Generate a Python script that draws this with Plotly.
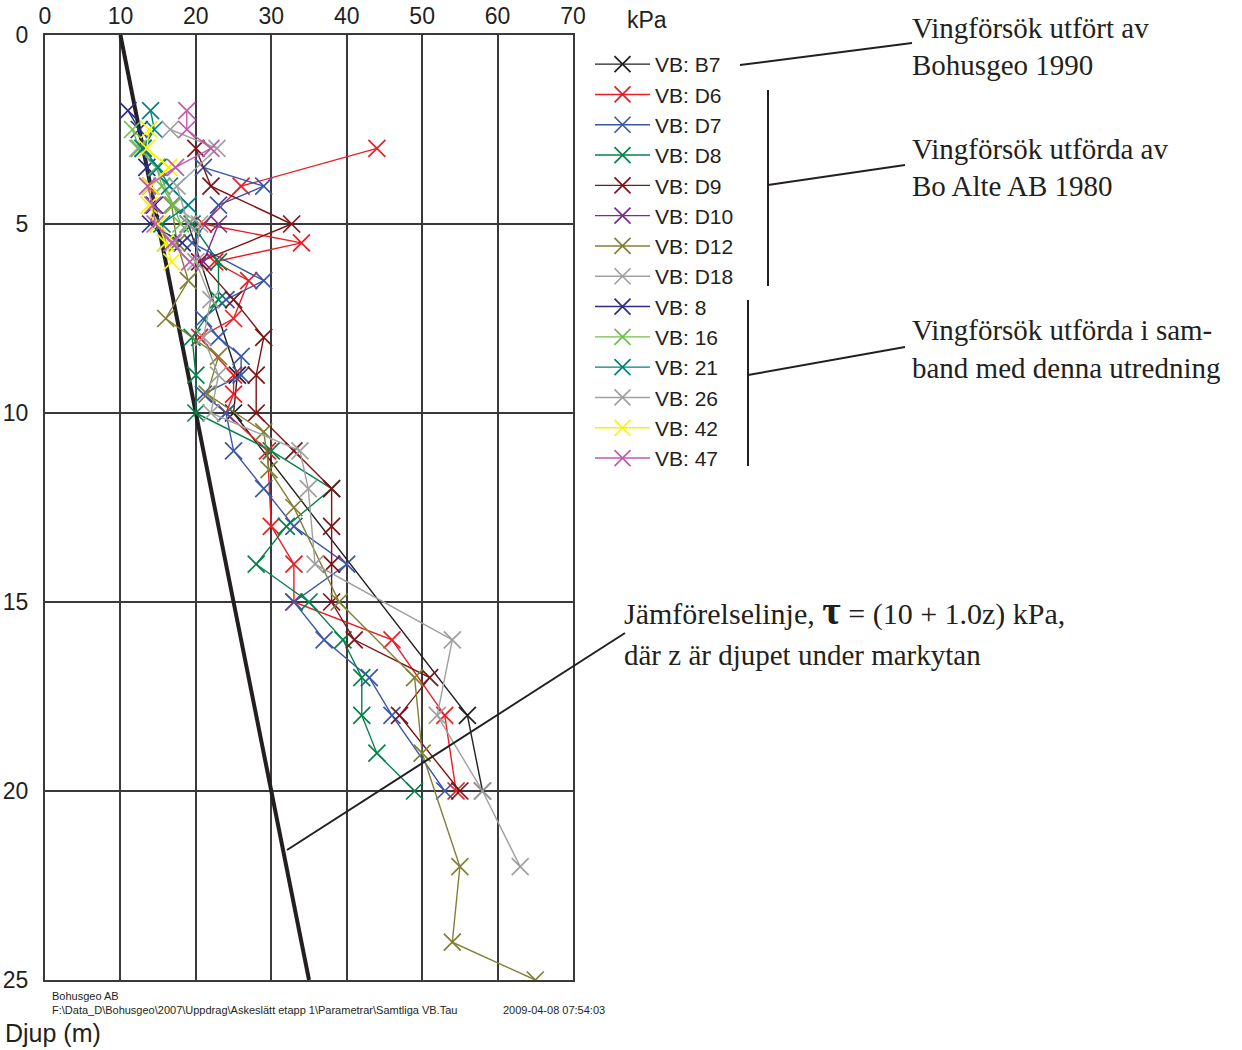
import plotly.graph_objects as go

# ---------------- data (kPa vs depth in m) ----------------
names = ["VB: B7", "VB: D6", "VB: D7", "VB: D8", "VB: D9", "VB: D10", "VB: D12", "VB: D18",
         "VB: 8", "VB: 16", "VB: 21", "VB: 26", "VB: 42", "VB: 47"]
colors = ["#231F20", "#ED1C24", "#3B57A7", "#00844A", "#7E1416", "#7B2D8C", "#808035", "#A0A0A0",
          "#2B2E83", "#6CC04A", "#00827E", "#A0A0A0", "#FFF200", "#C05AAB"]

b7_z = [5, 9, 10, 18, 20]
b7_k = [19, 25.5, 25, 56, 58]

d6_z = [3, 4, 5, 5.5, 6, 6.5, 7.5, 8, 9, 9.5, 10, 11, 13, 14, 15, 16, 18, 20]
d6_k = [44, 26, 21, 34, 22.5, 27, 25, 20.5, 25, 25, 24, 29.5, 30, 33, 33, 46, 53, 54.5]

d7_z = [3.5, 4, 4.5, 5.5, 6.5, 7, 7.5, 8, 8.5, 9, 9.5, 10, 11, 12, 13, 14, 15, 16, 17, 18, 20]
d7_k = [21, 29, 23, 19.5, 29, 24, 21, 23, 26, 26, 21, 24, 25, 29, 33, 40, 33, 37, 43, 46, 53]

d8_z = [5, 6, 7, 8, 9, 10, 11, 12, 13, 14, 15, 16, 17, 18, 19, 20]
d8_k = [19.5, 23, 23, 19.5, 20, 20, 30, 38, 32, 28, 35, 39.5, 42, 42, 44, 49]

d9_z = [3, 4, 5, 6, 7, 8, 9, 10, 11, 12, 13, 14, 15, 16, 17, 18, 20]
d9_k = [20, 22, 32.7, 20.5, 25, 29, 28, 28, 33, 38, 38, 38, 38, 41, 51, 47, 55]

d10_z = [5, 6]
d10_k = [23, 21]

d12_z = [4.5, 5.5, 6.5, 7.5, 8.5, 9.5, 10.5, 11.5, 12.5, 15, 17, 19, 22, 24, 25]
d12_k = [16.8, 17.5, 19, 16, 23, 21.5, 29, 29.7, 33, 39, 49, 50, 55, 54, 65]

d18_z = [3, 3.5, 4.5, 5, 6, 7, 8, 9, 10, 11, 12, 14, 16, 18, 20, 22]
d18_k = [12.3, 14.8, 17, 20.5, 20, 22, 21, 23, 22, 33.8, 34.9, 35.8, 54, 52, 58, 63]

vb8_z = [2, 2.5, 3, 3.5, 4, 4.5, 5, 5.5]
vb8_k = [11, 12.5, 13, 13.5, 14, 14.5, 14, 18.2]

vb16_z = [2.5, 3, 3.5, 4, 4.5, 5]
vb16_k = [11.6, 12.5, 14.8, 15.5, 17, 18]

vb21_z = [2, 2.5, 3, 3.5, 4, 4.5, 5, 5.5]
vb21_k = [14, 14.5, 13, 15, 16.5, 19, 15.5, 16]

vb26_z = [2.5, 3, 4, 5, 5.5]
vb26_k = [16.6, 22.8, 17.5, 19, 17]

vb42_z = [2.5, 3, 3.5, 4, 4.5, 5, 5.5, 6]
vb42_k = [13.8, 13.5, 16.4, 14, 13.8, 15, 16, 16.8]

vb47_z = [2, 2.5, 3, 3.5, 4, 4.5, 5, 5.5, 6]
vb47_k = [18.8, 18.8, 22, 17.3, 13.6, 14.3, 14.6, 16.8, 19.2]

series_z = [b7_z, d6_z, d7_z, d8_z, d9_z, d10_z, d12_z, d18_z, vb8_z, vb16_z, vb21_z, vb26_z, vb42_z, vb47_z]
series_k = [b7_k, d6_k, d7_k, d8_k, d9_k, d10_k, d12_k, d18_k, vb8_k, vb16_k, vb21_k, vb26_k, vb42_k, vb47_k]

# comparison line tau = 10 + 1.0 z
ref_z = [0, 25]
ref_k = [10, 35]

x_ticks = [0, 10, 20, 30, 40, 50, 60, 70]
y_ticks = [0, 5, 10, 15, 20, 25]

# ---------------- figure ----------------
W, H = 1242, 1050
L, R, T, B = 45, 573, 35, 980


def px(x):
    return (x - L) / (R - L)


def py(y):
    return (B - y) / (B - T)


fig = go.Figure()

fig.add_trace(go.Scatter(x=ref_k, y=ref_z, mode="lines", line=dict(color="#231F20", width=4),
                         showlegend=False, hoverinfo="skip"))

for n, c, zz, kk in zip(names, colors, series_z, series_k):
    fig.add_trace(go.Scatter(
        x=kk, y=zz, name=n, mode="lines+markers",
        line=dict(color=c, width=1.4),
        marker=dict(symbol="x-thin", size=17, color=c, line=dict(color=c, width=1.7)),
    ))

axis_font = dict(family="Liberation Sans, Arial", size=23, color="#231F20")

fig.update_xaxes(side="top", range=[0, 70], tickvals=x_ticks, ticks="", showgrid=True,
                 gridcolor="#3a3a3a", gridwidth=1.5, showline=True, linecolor="#3a3a3a",
                 linewidth=2, mirror=True, zeroline=False, tickfont=axis_font, automargin=False)
fig.update_yaxes(range=[25, 0], tickvals=y_ticks, ticks="", showgrid=True,
                 gridcolor="#3a3a3a", gridwidth=1.5, showline=True, linecolor="#3a3a3a",
                 linewidth=2, mirror=True, zeroline=False, tickfont=axis_font, automargin=False,
                 ticklabelstandoff=10)

shapes = []


def seg(x0, y0, x1, y1, w=2):
    shapes.append(dict(type="line", xref="paper", yref="paper",
                       x0=px(x0), y0=py(y0), x1=px(x1), y1=py(y1),
                       line=dict(color="#231F20", width=w)))


seg(740, 65, 912, 43)
seg(768, 90, 768, 286)
seg(768, 185, 905, 165)
seg(748, 300, 748, 466)
seg(748, 375, 905, 347)
seg(287, 850, 625, 633)

serif = dict(family="Liberation Serif, Times New Roman", size=29, color="#231F20")
ann = []


def text(x, y, s, font, xanchor="left"):
    ann.append(dict(xref="paper", yref="paper", x=px(x), y=py(y), text=s, showarrow=False,
                    xanchor=xanchor, yanchor="middle", font=font))


text(910, 28, "Vingförsök utfört av", serif)
text(910, 65, "Bohusgeo 1990", serif)
text(910, 149, "Vingförsök utförda av", serif)
text(910, 186, "Bo Alte AB 1980", serif)
text(910, 330, "Vingförsök utförda i sam-", serif)
text(910, 368, "band med denna utredning", serif)
text(622, 610, "Jämförelselinje, <b><span style='font-size:40px'>τ</span></b> = (10 + 1.0z) kPa,",
     dict(family="Liberation Serif, Times New Roman", size=30, color="#231F20"))
text(622, 655, "där z är djupet under markytan", serif)

sans = dict(family="Liberation Sans, Arial", size=23, color="#231F20")
text(625, 20, "kPa", sans)
text(3, 1033, "Djup (m)", dict(family="Liberation Sans, Arial", size=25, color="#231F20"))
small = dict(family="Liberation Sans, Arial", size=11, color="#231F20")
text(50, 996, "Bohusgeo AB", small)
text(50, 1010, "F:\\Data_D\\Bohusgeo\\2007\\Uppdrag\\Askeslätt etapp 1\\Parametrar\\Samtliga VB.Tau", small)
text(501, 1010, "2009-04-08 07:54:03", small)

fig.update_layout(
    width=W, height=H,
    margin=dict(l=L, r=W - R, t=T, b=H - B, autoexpand=False),
    paper_bgcolor="white", plot_bgcolor="white",
    shapes=shapes, annotations=ann,
    showlegend=True,
    legend=dict(x=px(590), y=py(44), xanchor="left", yanchor="top",
                font=dict(family="Liberation Sans, Arial", size=21, color="#231F20"),
                bgcolor="rgba(0,0,0,0)", itemwidth=55, tracegroupgap=0),
    font=dict(family="Liberation Sans, Arial"),
)

fig.write_html("out.html", config={"displayModeBar": False},
               post_script="document.body.style.margin='0';document.body.style.padding='0';")
